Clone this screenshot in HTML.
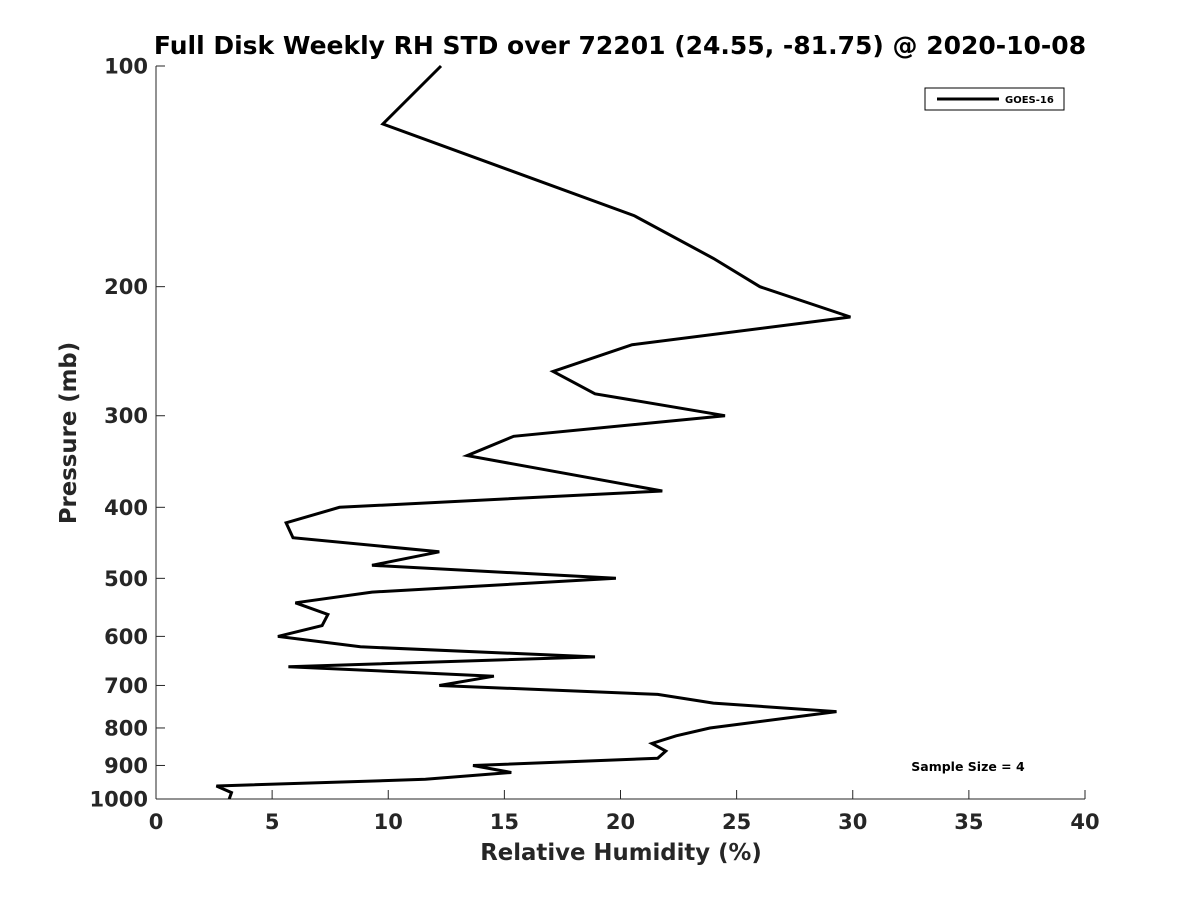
<!DOCTYPE html>
<html><head><meta charset="utf-8"><style>body{margin:0;background:#fff}svg{display:block}text{font-family:"DejaVu Sans","Liberation Sans",sans-serif;font-weight:bold;fill:#262626}</style></head>
<body>
<svg id="chart" width="1200" height="900" viewBox="0 0 1200 900">
<text x="620" y="54" text-anchor="middle" font-size="25" style="fill:#000">Full Disk Weekly RH STD over 72201 (24.55, -81.75) @ 2020-10-08</text>
<g id="axes"></g>
<path id="series-line" fill="none" stroke="#000" stroke-width="3" stroke-linejoin="miter"/>
<g>
<rect x="925" y="88" width="139" height="22" fill="#fff" stroke="#000" stroke-width="1"/>
<line x1="937" y1="99" x2="999" y2="99" stroke="#000" stroke-width="3"/>
<text x="1005" y="103" font-size="10" style="fill:#000">GOES-16</text>
</g>
<text x="968" y="771" text-anchor="middle" font-size="12.5" style="fill:#000">Sample Size = 4</text>
<text x="621" y="860" text-anchor="middle" font-size="22.8">Relative Humidity (%)</text>
<text transform="translate(76,433) rotate(-90)" text-anchor="middle" font-size="22.8">Pressure (mb)</text>
</svg>
<script>
const pressures=[100,120,160,183,200,220,240,261,280,300,320,340,380,400,420,440,460,480,500,522,540,560,580,600,620,640,660,680,700,720,740,760,800,820,840,860,880,900,920,940,960,980,1000];
const rhValues=[12.27,9.77,20.58,24.0,26.0,29.9,20.5,17.1,18.9,24.5,15.4,13.4,21.8,7.9,5.6,5.9,12.2,9.3,19.8,9.3,6.0,7.4,7.15,5.25,8.8,18.9,5.7,14.55,12.2,21.6,24.0,29.3,23.85,22.4,21.35,21.95,21.6,13.65,15.3,11.6,2.6,3.25,3.15];
const xTicks=[0,5,10,15,20,25,30,35,40];
const yTicks=[100,200,300,400,500,600,700,800,900,1000];
const X0=156,X1=1085,Y0=66,Y1=799;
const xs=v=>X0+(v-0)/(40-0)*(X1-X0);
const ys=p=>Y0+(Math.log10(p)-2)/(3-2)*(Y1-Y0);
const NS="http://www.w3.org/2000/svg";
const ax=document.getElementById('axes');
function mk(t,a){const e=document.createElementNS(NS,t);for(const k in a)e.setAttribute(k,a[k]);ax.appendChild(e);return e;}
const yl=mk('line',{x1:X0,y1:Y0,x2:X0,y2:Y1,stroke:'#262626','stroke-width':1});


const xl=mk('line',{x1:X0,y1:Y1,x2:X1,y2:Y1,stroke:'#262626','stroke-width':1});


xTicks.forEach(v=>{
 const x=xs(v);
 mk('line',{x1:x,y1:Y1,x2:x,y2:Y1-9,stroke:'#262626'});
 const t=mk('text',{x:x,y:Y1+30,'text-anchor':'middle','font-size':21});
 t.textContent=v;
 
 
});
yTicks.forEach(p=>{
 const y=ys(p);
 mk('line',{x1:X0,y1:y,x2:X0+9,y2:y,stroke:'#262626'});
 const t=mk('text',{x:X0-8,y:y+7.5,'text-anchor':'end','font-size':21});
 t.textContent=p;
 
 
});
document.getElementById('series-line').setAttribute('d',pressures.map((p,i)=>(i?'L':'M')+xs(rhValues[i]).toFixed(1)+','+ys(p).toFixed(1)).join(''));
</script>
</body></html>
